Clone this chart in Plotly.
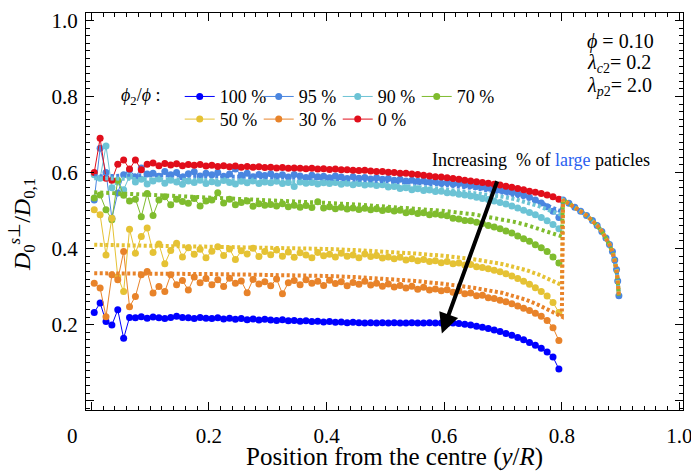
import plotly.graph_objects as go

# ---------------- data ----------------
X = [0.005, 0.015, 0.025, 0.035, 0.045, 0.055, 0.065, 0.075, 0.085, 0.095,
     0.105, 0.115, 0.125, 0.135, 0.145, 0.155, 0.165, 0.175, 0.185, 0.195,
     0.205, 0.215, 0.225, 0.235, 0.245, 0.255, 0.265, 0.275, 0.285, 0.295,
     0.305, 0.315, 0.325, 0.335, 0.345, 0.355, 0.365, 0.375, 0.385, 0.395,
     0.405, 0.415, 0.425, 0.435, 0.445, 0.455, 0.465, 0.475, 0.485, 0.495,
     0.505, 0.515, 0.525, 0.535, 0.545, 0.555, 0.565, 0.575, 0.585, 0.595,
     0.605, 0.615, 0.625, 0.635, 0.645, 0.655, 0.665, 0.675, 0.685, 0.695,
     0.705, 0.715, 0.725, 0.735, 0.745, 0.755, 0.765, 0.775, 0.785, 0.795]

Y100 = [0.232, 0.257, 0.208, 0.199, 0.239, 0.164, 0.219, 0.218, 0.221, 0.217,
        0.220, 0.218, 0.216, 0.219, 0.222, 0.219, 0.218, 0.216, 0.219, 0.217,
        0.216, 0.218, 0.215, 0.217, 0.214, 0.216, 0.213, 0.215, 0.212, 0.214,
        0.212, 0.211, 0.213, 0.210, 0.211, 0.209, 0.210, 0.208, 0.209, 0.207,
        0.208, 0.206, 0.207, 0.205, 0.206, 0.205, 0.204, 0.205, 0.204, 0.205,
        0.204, 0.205, 0.204, 0.204, 0.205, 0.204, 0.204, 0.205, 0.204, 0.204,
        0.203, 0.204, 0.203, 0.201, 0.199, 0.196, 0.193, 0.190, 0.186, 0.182,
        0.177, 0.172, 0.166, 0.160, 0.153, 0.146, 0.138, 0.128, 0.115, 0.083]

Y95 = [0.528, 0.664, 0.600, 0.480, 0.546, 0.594, 0.607, 0.588, 0.612, 0.596,
       0.598, 0.590, 0.603, 0.594, 0.600, 0.588, 0.597, 0.602, 0.591, 0.598,
       0.594, 0.600, 0.590, 0.596, 0.609, 0.593, 0.598, 0.589, 0.595, 0.592,
       0.597, 0.590, 0.594, 0.588, 0.595, 0.591, 0.587, 0.593, 0.589, 0.590,
       0.586, 0.591, 0.588, 0.584, 0.589, 0.585, 0.587, 0.583, 0.586, 0.582,
       0.584, 0.580, 0.582, 0.578, 0.580, 0.577, 0.578, 0.575, 0.576, 0.572,
       0.573, 0.570, 0.571, 0.567, 0.566, 0.563, 0.562, 0.559, 0.557, 0.554,
       0.551, 0.548, 0.544, 0.540, 0.535, 0.528, 0.520, 0.510, 0.498, 0.482]

Y90 = [0.594, 0.585, 0.670, 0.560, 0.575, 0.555, 0.590, 0.575, 0.582, 0.570,
       0.578, 0.583, 0.572, 0.580, 0.575, 0.569, 0.578, 0.574, 0.580, 0.571,
       0.576, 0.572, 0.579, 0.574, 0.570, 0.577, 0.573, 0.578, 0.571, 0.575,
       0.573, 0.577, 0.571, 0.574, 0.563, 0.575, 0.572, 0.574, 0.570, 0.573,
       0.571, 0.574, 0.569, 0.572, 0.568, 0.571, 0.567, 0.569, 0.566, 0.568,
       0.562, 0.563, 0.558, 0.560, 0.555, 0.557, 0.553, 0.554, 0.550, 0.551,
       0.547, 0.546, 0.543, 0.541, 0.538, 0.535, 0.532, 0.529, 0.525, 0.521,
       0.517, 0.512, 0.507, 0.501, 0.495, 0.489, 0.482, 0.473, 0.463, 0.452]

Y70 = [0.533, 0.541, 0.502, 0.476, 0.580, 0.540, 0.525, 0.530, 0.484, 0.545,
       0.487, 0.528, 0.536, 0.515, 0.530, 0.524, 0.519, 0.532, 0.512, 0.525,
       0.528, 0.547, 0.520, 0.530, 0.515, 0.521, 0.525, 0.511, 0.518, 0.514,
       0.516, 0.512, 0.518, 0.510, 0.514, 0.509, 0.513, 0.508, 0.523, 0.507,
       0.510, 0.505, 0.509, 0.504, 0.507, 0.503, 0.506, 0.502, 0.505, 0.500,
       0.503, 0.499, 0.501, 0.494, 0.497, 0.492, 0.494, 0.489, 0.491, 0.488,
       0.486, 0.480, 0.478, 0.474, 0.473, 0.469, 0.466, 0.461, 0.457, 0.452,
       0.446, 0.441, 0.433, 0.426, 0.419, 0.410, 0.402, 0.392, 0.378, 0.362]

Y50 = [0.502, 0.489, 0.383, 0.480, 0.326, 0.287, 0.451, 0.388, 0.432, 0.454,
       0.390, 0.412, 0.360, 0.395, 0.414, 0.378, 0.402, 0.385, 0.398, 0.376,
       0.393, 0.405, 0.382, 0.399, 0.371, 0.394, 0.386, 0.401, 0.379, 0.392,
       0.384, 0.396, 0.380, 0.391, 0.377, 0.389, 0.383, 0.376, 0.390, 0.381,
       0.385, 0.378, 0.388, 0.380, 0.383, 0.376, 0.386, 0.379, 0.382, 0.375,
       0.378, 0.373, 0.377, 0.370, 0.373, 0.368, 0.371, 0.366, 0.368, 0.363,
       0.366, 0.360, 0.362, 0.357, 0.358, 0.352, 0.350, 0.347, 0.343, 0.339,
       0.334, 0.328, 0.321, 0.314, 0.306, 0.297, 0.287, 0.275, 0.258, 0.232]

Y30 = [0.309, 0.296, 0.221, 0.331, 0.318, 0.392, 0.247, 0.274, 0.331, 0.340,
       0.283, 0.300, 0.287, 0.331, 0.305, 0.316, 0.291, 0.325, 0.310, 0.321,
       0.305, 0.318, 0.300, 0.322, 0.309, 0.315, 0.284, 0.319, 0.307, 0.313,
       0.302, 0.320, 0.281, 0.310, 0.316, 0.305, 0.318, 0.309, 0.314, 0.303,
       0.317, 0.308, 0.313, 0.302, 0.311, 0.306, 0.314, 0.304, 0.309, 0.301,
       0.307, 0.299, 0.303, 0.296, 0.301, 0.293, 0.298, 0.291, 0.294, 0.289,
       0.292, 0.285, 0.289, 0.281, 0.283, 0.276, 0.277, 0.271, 0.269, 0.264,
       0.260, 0.255, 0.249, 0.243, 0.237, 0.230, 0.222, 0.211, 0.192, 0.158]

Y0 = [0.600, 0.690, 0.585, 0.580, 0.622, 0.633, 0.609, 0.633, 0.607, 0.622,
      0.625, 0.618, 0.624, 0.620, 0.623, 0.618, 0.621, 0.619, 0.621, 0.617,
      0.619, 0.616, 0.618, 0.615, 0.617, 0.614, 0.616, 0.614, 0.615, 0.613,
      0.614, 0.612, 0.613, 0.611, 0.612, 0.611, 0.610, 0.611, 0.609, 0.610,
      0.608, 0.609, 0.607, 0.607, 0.606, 0.605, 0.606, 0.604, 0.603, 0.603,
      0.601, 0.600, 0.598, 0.598, 0.596, 0.595, 0.593, 0.591, 0.589, 0.588,
      0.586, 0.584, 0.582, 0.580, 0.578, 0.576, 0.574, 0.572, 0.569, 0.567,
      0.564, 0.561, 0.558, 0.555, 0.551, 0.548, 0.545, 0.541, 0.536, 0.530]

# common curve beyond y/R = 0.8
CURVE_X = [0.802, 0.812, 0.822, 0.832, 0.842, 0.852, 0.860, 0.868, 0.875,
           0.881, 0.886, 0.890, 0.893, 0.895, 0.897]
CURVE_Y = [0.528, 0.519, 0.509, 0.498, 0.487, 0.474, 0.461, 0.445, 0.428,
           0.411, 0.392, 0.370, 0.345, 0.315, 0.276]

# dotted (model) lines
DOT_X = [0.005, 0.05, 0.10, 0.15, 0.20, 0.25, 0.30, 0.35, 0.40, 0.45,
         0.50, 0.55, 0.60, 0.65, 0.70, 0.72, 0.74, 0.76, 0.78, 0.80]
D95 = [0.590, 0.592, 0.593, 0.592, 0.591, 0.590, 0.588, 0.586, 0.584, 0.581,
       0.577, 0.573, 0.567, 0.559, 0.547, 0.541, 0.533, 0.523, 0.510, 0.497]
D90 = [0.585, 0.583, 0.582, 0.581, 0.580, 0.579, 0.578, 0.576, 0.574, 0.571,
       0.567, 0.562, 0.556, 0.547, 0.536, 0.530, 0.522, 0.512, 0.500, 0.488]
D70 = [0.548, 0.545, 0.541, 0.538, 0.535, 0.532, 0.528, 0.524, 0.520, 0.516,
       0.511, 0.506, 0.499, 0.490, 0.477, 0.470, 0.462, 0.453, 0.442, 0.432]
D50 = [0.410, 0.408, 0.407, 0.406, 0.405, 0.404, 0.403, 0.401, 0.399, 0.396,
       0.392, 0.387, 0.381, 0.372, 0.359, 0.352, 0.343, 0.332, 0.318, 0.304]
D30 = [0.335, 0.335, 0.334, 0.334, 0.333, 0.332, 0.331, 0.330, 0.328, 0.325,
       0.321, 0.315, 0.307, 0.297, 0.283, 0.275, 0.265, 0.252, 0.236, 0.221]

LABELS = ["100 %", "95 %", "90 %", "70 %", "50 %", "30 %", "0 %"]
COLORS = ["#0000ff", "#4a86e0", "#6cc3d5", "#7fbc2e", "#e5c234", "#e8832a", "#e10e1b"]
TICKS = [0, 0.2, 0.4, 0.6, 0.8, 1.0]
TICKTEXT = ["", "0.2", "0.4", "0.6", "0.8", "1.0"]

FONT = "Liberation Serif, Times New Roman, serif"

fig = go.Figure()

marker_series = [
    (X, Y100),
    (X + CURVE_X, Y95 + CURVE_Y),
    (X, Y90),
    (X, Y70),
    (X, Y50),
    (X, Y30),
    (X, Y0),
]
for i, (xs, ys) in enumerate(marker_series):
    fig.add_trace(go.Scatter(
        x=xs, y=ys, mode="lines+markers", name=LABELS[i],
        line=dict(color=COLORS[i], width=1),
        marker=dict(color=COLORS[i], size=7, line=dict(width=0)),
        legend="legend" if i < 4 else "legend2",
    ))

dotted = [(D95, 1, "3px,2.5px"), (D90, 2, "3px,2.5px"), (D70, 3, "3px,3px"),
          (D50, 4, "3px,2.5px"), (D30, 5, "3px,2.5px")]
for ys, ci, dash in dotted:
    fig.add_trace(go.Scatter(
        x=DOT_X + CURVE_X, y=ys + CURVE_Y, mode="lines", showlegend=False,
        line=dict(color=COLORS[ci], width=4, dash=dash),
        hoverinfo="skip",
    ))

axis_common = dict(
    showline=True, linecolor="black", linewidth=1.3, mirror="allticks",
    ticks="inside", ticklen=8, tickwidth=1.2, tickcolor="black",
    tickvals=TICKS, ticktext=TICKTEXT, showgrid=False, zeroline=False,
    tickfont=dict(family=FONT, size=21, color="black"),
    ticklabeloverflow="allow", automargin=False,
    minor=dict(dtick=0.02, ticklen=4, tickwidth=1, ticks="inside",
               tickcolor="black", showgrid=False),
)
fig.update_xaxes(range=[-0.009, 1.006], ticklabelstandoff=7, **axis_common)
fig.update_yaxes(range=[-0.0245, 1.0195], ticklabelstandoff=3, **axis_common)

leg_common = dict(
    orientation="h", xanchor="left", yanchor="middle",
    entrywidth=34, entrywidthmode="pixels", itemwidth=30,
    font=dict(family=FONT, size=18, color="black"),
    bgcolor="rgba(0,0,0,0)", borderwidth=0,
)
fig.update_layout(
    width=691, height=472,
    margin=dict(l=86, r=8, t=13, b=62, autoexpand=False),
    paper_bgcolor="white", plot_bgcolor="white",
    font=dict(family=FONT, size=20, color="black"),
    legend=dict(x=0.157, y=0.789, **leg_common),
    legend2=dict(x=0.157, y=0.732, **leg_common),
)


def pa(text, x, y, size, xanchor="center", yanchor="middle", **kw):
    d = dict(text=text, xref="paper", yref="paper", x=x, y=y, xanchor=xanchor,
             yanchor=yanchor, showarrow=False, font=dict(family=FONT, size=size, color="black"))
    d.update(kw)
    return d


ann = [
    pa("0", -0.0218, -0.0655, 21),
    pa("Position from the centre (<i>y</i>/<i>R</i>)", 0.516, -0.119, 25),
    pa("<i>D</i><sub>0</sub><sup><i>s</i>⊥</sup>/<i>D</i><sub>0,1</sub>", -0.107, 0.466, 24,
       textangle=-90),
    pa("<i>ϕ</i><sub>2</sub>/<i>ϕ</i> :", 0.092, 0.789, 18),
    pa("<i>ϕ</i> = 0.10", 0.836, 0.928, 20, xanchor="left"),
    pa("<i>λ</i><sub><i>c</i>2</sub>= 0.2", 0.836, 0.872, 20, xanchor="left"),
    pa("<i>λ</i><sub><i>p</i>2</sub>= 2.0", 0.836, 0.814, 20, xanchor="left"),
]
ann.append(dict(text="Increasing\u00a0 % of <span style='color:#2a5ff0'>large</span> paticles",
                x=0.765, y=0.633, xref="x", yref="y", xanchor="center", yanchor="middle",
                showarrow=False, font=dict(family=FONT, size=18, color="black")))
ann.append(dict(text="", x=0.596, y=0.177, ax=0.691, ay=0.581, xref="x", yref="y",
                axref="x", ayref="y", showarrow=True, arrowhead=2, arrowsize=1,
                arrowwidth=4, arrowcolor="black"))
fig.update_layout(annotations=ann)

fig.write_html("out.html")
